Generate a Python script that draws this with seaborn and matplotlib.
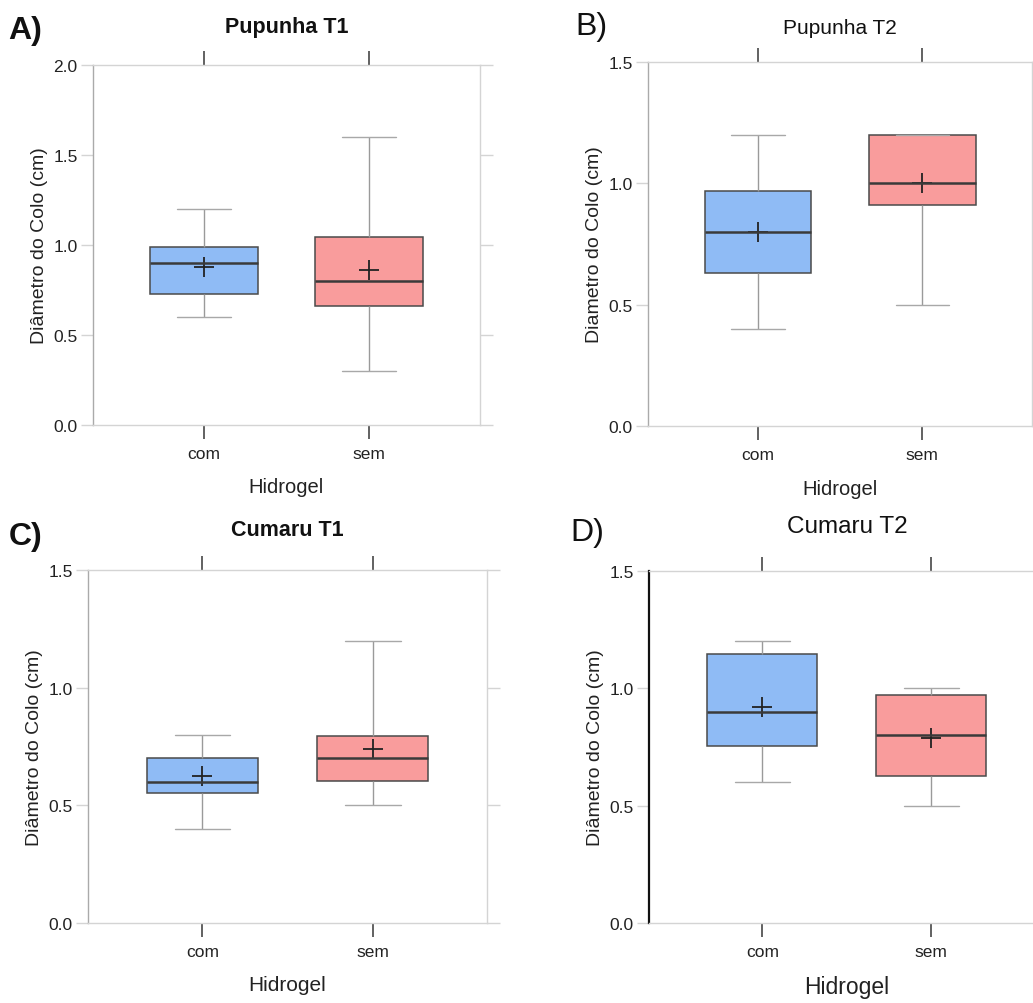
import numpy as np
import pandas as pd
import matplotlib
matplotlib.use("Agg")
import matplotlib.pyplot as plt
import seaborn as sns

# cinco numeros (min, q1, mediana, q3, max) e media
grupos = ["com", "sem"]

pup_t1_com = [0.60, 0.73, 0.90, 0.99, 1.20]
pup_t1_sem = [0.30, 0.66, 0.80, 1.045, 1.60]
pup_t1_media = [0.878, 0.86]

pup_t2_com = [0.40, 0.63, 0.80, 0.97, 1.20]
pup_t2_sem = [0.50, 0.91, 1.00, 1.20, 1.20]
pup_t2_media = [0.80, 1.00]

cum_t1_com = [0.40, 0.554, 0.60, 0.70, 0.80]
cum_t1_sem = [0.50, 0.603, 0.70, 0.793, 1.20]
cum_t1_media = [0.623, 0.74]

cum_t2_com = [0.60, 0.756, 0.90, 1.147, 1.20]
cum_t2_sem = [0.50, 0.628, 0.80, 0.97, 1.00]
cum_t2_media = [0.92, 0.79]

# letra, titulo, rotulo y, dados, ymax, posicao, pos letra, peso, tam titulo, tam xlabel, pad titulo
paineis = [
    ("A)", "Pupunha T1", "Diâmetro do Colo (cm)", pup_t1_com, pup_t1_sem, pup_t1_media, 2.0,
     [0.090, 0.5757, 0.3746, 0.3586], (0.008, 0.969), "bold", 15.5, 14.5, 24),
    ("B)", "Pupunha T2", "Diametro do Colo (cm)", pup_t2_com, pup_t2_sem, pup_t2_media, 1.5,
     [0.6273, 0.5747, 0.3720, 0.3626], (0.557, 0.973), "normal", 15, 14.5, 21),
    ("C)", "Cumaru T1", "Diâmetro do Colo (cm)", cum_t1_com, cum_t1_sem, cum_t1_media, 1.5,
     [0.0852, 0.0797, 0.3863, 0.3516], (0.008, 0.465), "bold", 15.5, 15, 25),
    ("D)", "Cumaru T2", "Diâmetro do Colo (cm)", cum_t2_com, cum_t2_sem, cum_t2_media, 1.5,
     [0.6283, 0.0797, 0.3830, 0.3506], (0.552, 0.469), "normal", 17.5, 16.5, 28),
]

cores = ["#8fbbf5", "#f99c9c"]

sns.set_theme(style="white")
plt.rcParams["font.family"] = ["Liberation Sans", "DejaVu Sans"]

fig = plt.figure(figsize=(10.33, 10.04), dpi=100)

for letra, titulo, ylab, v_com, v_sem, medias, ymax, pos, lpos, peso, tam_t, tam_x, pad_t in paineis:
    ax = fig.add_axes(pos)
    df = pd.DataFrame({"Hidrogel": ["com"] * 5 + ["sem"] * 5,
                       "valor": v_com + v_sem})
    sns.boxplot(data=df, x="Hidrogel", y="valor", hue="Hidrogel", order=grupos,
                palette=cores, saturation=1, width=0.65, whis=(0, 100),
                linecolor="#4a4a4a", linewidth=1.1, legend=False, ax=ax,
                whiskerprops=dict(color="#9a9a9a", linewidth=1.0),
                capprops=dict(color="#a8a8a8", linewidth=1.0),
                medianprops=dict(color="#3a3a3a", linewidth=1.8))
    dfm = pd.DataFrame({"Hidrogel": grupos, "media": medias})
    sns.pointplot(data=dfm, x="Hidrogel", y="media", order=grupos, color="#222222",
                  markers="+", linestyle="none", errorbar=None, ax=ax,
                  markersize=14, markeredgewidth=1.3)

    ax.set_xlim(-0.67, 1.67)
    ax.set_ylim(0, ymax)
    ticks = np.arange(0, ymax + 0.01, 0.5)
    ax.set_yticks(ticks)
    ax.set_yticklabels([f"{t:.1f}" for t in ticks])
    ax.set_xticks([0, 1])
    ax.set_xticklabels(grupos)

    for lado in ["top", "right", "bottom", "left"]:
        ax.spines[lado].set_color("#d4d4d4")
        ax.spines[lado].set_linewidth(1.0)
    if letra == "D)":
        ax.spines["left"].set_color("#111111")
        ax.spines["left"].set_linewidth(1.6)
    else:
        ax.spines["left"].set_color("#aaaaaa")

    ax.tick_params(axis="y", which="both", direction="out", left=True, right=True,
                   length=9, width=1.0, color="#d4d4d4", labelsize=12.5,
                   labelcolor="#222222", pad=2)
    ax.tick_params(axis="x", which="both", direction="out", bottom=True, top=True,
                   length=10, width=1.3, color="#555555", labelsize=12.5,
                   labelcolor="#222222", pad=5)

    ax.set_ylabel(ylab, fontsize=14, color="#222222", labelpad=4)
    ax.set_xlabel("Hidrogel", fontsize=tam_x, color="#222222", labelpad=12)
    ax.set_title(titulo, fontsize=tam_t, fontweight=peso, color="#111111", pad=pad_t)

    fig.text(lpos[0], lpos[1], letra, fontsize=23,
             fontweight="bold" if peso == "bold" else "normal",
             color="#111111", va="center", ha="left")

fig.savefig("out.png", dpi=100)
